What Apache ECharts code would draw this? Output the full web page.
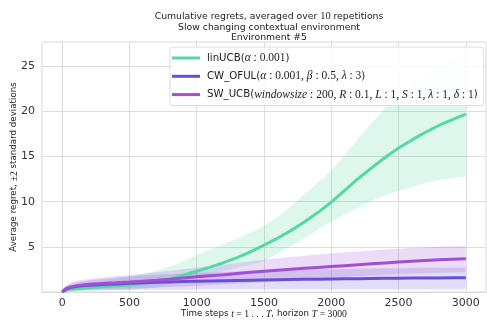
<!DOCTYPE html>
<html>
<head>
<meta charset="utf-8">
<script src="https://cdn.jsdelivr.net/npm/echarts@6/dist/echarts.min.js"></script>
<style>
  html, body { margin: 0; padding: 0; background: #fff; }
  #chart { width: 487px; height: 320px; }
</style>
</head>
<body>
<div id="chart"></div>
<script>
// Time steps at which the averaged regrets are sampled
const steps = [0, 25, 50, 100, 150, 200,
  300, 400, 500, 600, 700, 800, 900, 1000,
  1100, 1200, 1300, 1400, 1500, 1600, 1700, 1800, 1900, 2000,
  2100, 2200, 2300, 2400, 2500, 2600, 2700, 2800, 2900, 3000];

// linUCB: mean and +/- 2 std envelope
const linMean = [0, 0.15, 0.25, 0.35, 0.42, 0.48,
  0.58, 0.68, 0.78, 0.95, 1.15, 1.45, 1.85, 2.3,
  2.75, 3.25, 3.8, 4.45, 5.2, 5.95, 6.8, 7.75, 8.8, 9.95,
  11.25, 12.55, 13.75, 14.9, 15.95, 16.85, 17.7, 18.45, 19.1, 19.7];
const linUpper = [0, 0.45, 0.6, 0.8, 0.9, 1.0,
  1.15, 1.4, 1.7, 2.0, 2.35, 2.8, 3.4, 4.1,
  4.7, 5.3, 5.9, 6.6, 7.3, 8.3, 9.5, 10.8, 12.1, 13.4,
  15.2, 17.0, 18.7, 20.4, 21.8, 23.0, 24.1, 25.0, 25.7, 26.4];
const linLower = [0, 0.02, 0.05, 0.08, 0.1, 0.12,
  0.15, 0.2, 0.25, 0.35, 0.5, 0.85, 1.25, 1.65,
  2.0, 2.3, 2.7, 3.0, 3.4, 4.2, 5.1, 5.9, 6.9, 7.8,
  8.6, 9.3, 10.1, 10.7, 11.2, 11.6, 12.1, 12.4, 12.6, 12.8];

// CW_OFUL
const cwMean = [0, 0.3, 0.45, 0.6, 0.68, 0.74,
  0.82, 0.9, 0.97, 1.02, 1.07, 1.11, 1.15, 1.19,
  1.22, 1.25, 1.28, 1.31, 1.34, 1.36, 1.38, 1.4, 1.42, 1.44,
  1.46, 1.48, 1.5, 1.51, 1.52, 1.54, 1.55, 1.56, 1.57, 1.58];
const cwUpper = [0, 0.55, 0.8, 1.05, 1.2, 1.3,
  1.45, 1.6, 1.72, 1.82, 1.9, 1.98, 2.05, 2.12,
  2.17, 2.22, 2.27, 2.32, 2.36, 2.4, 2.43, 2.46, 2.49, 2.52,
  2.55, 2.58, 2.6, 2.62, 2.64, 2.66, 2.68, 2.7, 2.71, 2.72];
const cwLower = [0, 0.08, 0.12, 0.15, 0.18, 0.2,
  0.22, 0.23, 0.24, 0.25, 0.25, 0.26, 0.26, 0.27,
  0.27, 0.27, 0.28, 0.28, 0.28, 0.28, 0.28, 0.28, 0.28, 0.28,
  0.28, 0.29, 0.29, 0.29, 0.29, 0.29, 0.3, 0.3, 0.3, 0.3];

// SW_UCB
const swMean = [0, 0.35, 0.5, 0.68, 0.78, 0.85,
  0.95, 1.02, 1.1, 1.2, 1.3, 1.42, 1.55, 1.68,
  1.8, 1.92, 2.05, 2.18, 2.3, 2.42, 2.52, 2.62, 2.72, 2.82,
  2.92, 3.02, 3.12, 3.22, 3.32, 3.42, 3.5, 3.57, 3.63, 3.68];
const swUpper = [0, 0.7, 0.95, 1.2, 1.35, 1.45,
  1.62, 1.75, 1.88, 2.02, 2.18, 2.35, 2.52, 2.7,
  2.88, 3.05, 3.22, 3.4, 3.58, 3.74, 3.88, 4.02, 4.15, 4.28,
  4.4, 4.5, 4.6, 4.7, 4.8, 4.88, 4.95, 5.0, 5.05, 5.08];
const swLower = [0, 0.1, 0.15, 0.2, 0.25, 0.28,
  0.32, 0.36, 0.4, 0.45, 0.5, 0.55, 0.62, 0.7,
  0.78, 0.86, 0.94, 1.02, 1.1, 1.2, 1.3, 1.4, 1.5, 1.58,
  1.66, 1.74, 1.82, 1.9, 1.96, 2.02, 2.08, 2.12, 2.16, 2.2];

const xTicks = [0, 500, 1000, 1500, 2000, 2500, 3000];
const yTicks = [5, 10, 15, 20, 25];

const algoNames = ['linUCB', 'CW_OFUL', 'SW_UCB'];
const colors = ['#55d9a3', '#6a4fd6', '#a04fd8'];
const bandColors = ['rgba(85,217,163,0.20)', 'rgba(106,79,214,0.20)', 'rgba(160,79,216,0.20)'];

const SANS = 'DejaVu Sans';
const SERIF = 'Liberation Serif';

const pairs = (ys) => steps.map((t, i) => [t, ys[i]]);

// Shaded +/- 2 std envelope drawn as one polygon through the axis scales
function band(idx, lo, hi) {
  const rows = steps.map((t, i) => [t, lo[i], hi[i]]);
  return {
    type: 'custom', name: 'band' + idx, silent: true, z: 1, clip: true,
    data: rows,
    encode: { x: 0, y: [1, 2] },
    renderItem: (params, api) => {
      if (params.dataIndex !== 0) return null;
      const top = rows.map(r => api.coord([r[0], r[2]]));
      const bottom = rows.map(r => api.coord([r[0], r[1]])).reverse();
      return {
        type: 'polygon',
        shape: { points: top.concat(bottom) },
        style: { fill: bandColors[idx], stroke: null }
      };
    }
  };
}

function meanLine(idx, ys) {
  return {
    type: 'line', name: algoNames[idx], data: pairs(ys),
    symbol: 'none', z: 3 + idx,
    lineStyle: { color: colors[idx], width: 3 },
    itemStyle: { color: colors[idx] }
  };
}

const legendText = {
  linUCB: '{s|linUCB(}{i|α}{n| : 0.001}{s|)}',
  CW_OFUL: '{s|CW_OFUL(}{i|α}{n| : 0.001, }{i|β}{n| : 0.5, }{i|λ}{n| : 3}{s|)}',
  SW_UCB: '{s|SW_UCB(}{i|windowsize}{n| : 200, }{i|R}{n| : 0.1, }{i|L}{n| : 1, }{i|S}{n| : 1, }{i|λ}{n| : 1, }{i|δ}{n| : 1}{s|)}'
};

const chart = echarts.init(document.getElementById('chart'), null, { renderer: 'canvas' });

chart.setOption({
  animation: false,
  backgroundColor: '#ffffff',
  title: {
    text: '{a|Cumulative regrets, averaged over }{m|10}{a| repetitions}\n{a|Slow changing contextual environment}\n{a|Environment #5}',
    left: 264, top: 6, textAlign: 'center',
    textStyle: {
      fontWeight: 'normal',
      rich: {
        a: { fontFamily: SANS, fontSize: 9.3, fontWeight: 'normal', color: '#222', lineHeight: 10.8 },
        m: { fontFamily: SERIF, fontSize: 10.3, fontWeight: 'normal', color: '#222', lineHeight: 10.8 }
      }
    }
  },
  legend: {
    data: algoNames,
    orient: 'vertical',
    left: 170, top: 47,
    padding: [5, 6, 5, 2],
    itemGap: 6.3,
    itemWidth: 28, itemHeight: 3,
    icon: 'rect',
    backgroundColor: 'rgba(255,255,255,0.85)',
    borderColor: '#dddddd', borderWidth: 1, borderRadius: 3,
    formatter: (name) => legendText[name],
    textStyle: {
      padding: [0, 0, 0, 2],
      rich: {
        s: { fontFamily: SANS, fontSize: 10.2, color: '#222', height: 13 },
        i: { fontFamily: SERIF, fontStyle: 'italic', fontSize: 11.5, color: '#222', height: 13 },
        n: { fontFamily: SERIF, fontSize: 11.5, color: '#222', height: 13 }
      }
    }
  },
  grid: {
    left: 42, right: 1, top: 42, bottom: 28,
    containLabel: false, outerBoundsMode: 'none',
    show: true, borderColor: '#dadada', borderWidth: 1
  },
  xAxis: {
    type: 'value', min: -150, max: 3150,
    name: '{a|Time steps }{i|t}{n| = 1 . . . }{i|T}{a|, horizon }{i|T}{n| = 3000}',
    nameLocation: 'middle', nameGap: 17, nameMoveOverlap: false,
    nameTextStyle: {
      rich: {
        a: { fontFamily: SANS, fontSize: 8.7, color: '#222' },
        i: { fontFamily: SERIF, fontStyle: 'italic', fontSize: 9.7, color: '#222' },
        n: { fontFamily: SERIF, fontSize: 9.7, color: '#222' }
      }
    },
    axisLine: { show: true, lineStyle: { color: '#dadada', width: 1 } },
    axisTick: { show: false, customValues: xTicks },
    axisLabel: { customValues: xTicks, formatter: (v) => String(v), fontFamily: SANS, fontSize: 11, color: '#333', margin: 6 },
    splitLine: { show: true, lineStyle: { color: '#dddddd', width: 1 } }
  },
  yAxis: {
    type: 'value', min: 0, max: 27.7,
    name: '{a|Average regret, }{n|±2}{a| standard deviations}',
    nameLocation: 'middle', nameGap: 23, nameMoveOverlap: false,
    nameTextStyle: {
      rich: {
        a: { fontFamily: SANS, fontSize: 8.7, color: '#222' },
        n: { fontFamily: SERIF, fontSize: 9.7, color: '#222' }
      }
    },
    axisLine: { show: true, lineStyle: { color: '#dadada', width: 1 } },
    axisTick: { show: false, customValues: yTicks },
    axisLabel: { customValues: yTicks, formatter: (v) => String(v), fontFamily: SANS, fontSize: 11, color: '#333', margin: 7 },
    splitLine: { show: true, lineStyle: { color: '#dddddd', width: 1 } }
  },
  series: [
    band(0, linLower, linUpper),
    band(1, cwLower, cwUpper),
    band(2, swLower, swUpper),
    meanLine(0, linMean),
    meanLine(1, cwMean),
    meanLine(2, swMean)
  ]
});
</script>
</body>
</html>
